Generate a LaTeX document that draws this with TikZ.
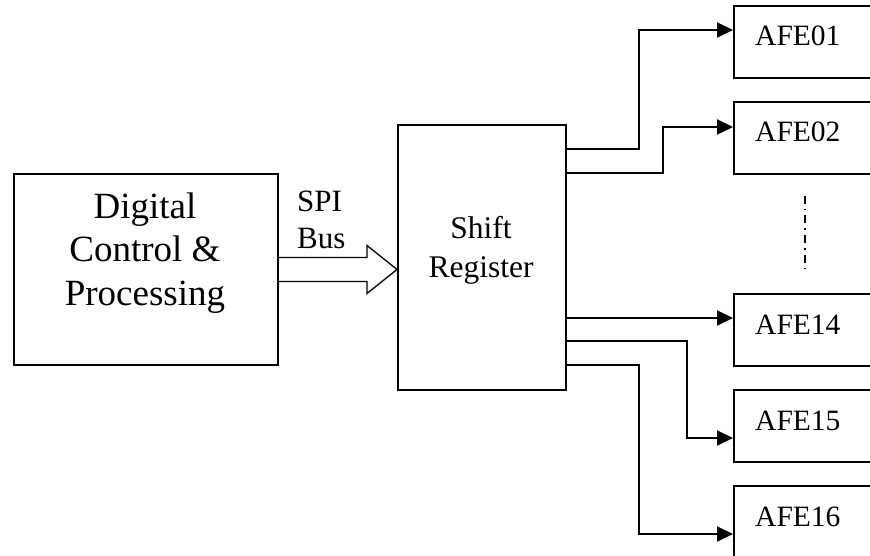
\documentclass[tikz,border=0pt]{standalone}
\usepackage{fontspec}
\setmainfont{Liberation Serif}
\usetikzlibrary{arrows.meta,calc}
\begin{document}
\begin{tikzpicture}[x=1pt,y=-1pt,
  blk/.style={draw,line width=2pt,inner sep=0pt,anchor=north west},
  afebox/.style={blk,minimum width=150pt,minimum height=72pt},
  lbl/.style={inner sep=0pt},
  afetxt/.style={lbl,anchor=base west,font=\fontsize{29.5}{34}\selectfont},
  sig/.style={line width=1.9pt,-{Triangle[length=16pt,width=15pt]}},
  busarrow/.style={line width=1.3pt,line join=miter},
  dotline/.style={line width=1.7pt,dash pattern=on 8pt off 5pt on 1.5pt off 5pt}
]
\clip (0,0) rectangle (870,556);

% main blocks
\node[blk,minimum width=264pt,minimum height=191pt] (dcp) at (13,173) {};
\node[blk,line width=1.6pt,minimum width=168pt,minimum height=265pt] (sr) at (397,124) {};

% multi-line labels, placed by the baseline of their last line
\node[lbl,align=center,anchor=base,font=\fontsize{37}{43.5}\selectfont] (dcptext) at (145,305)
  {Digital\\Control \&\\Processing};
\node[lbl,align=center,anchor=base,font=\fontsize{31.5}{39}\selectfont] (srtext) at (481,277)
  {Shift\\Register};
\node[lbl,align=left,anchor=base west,font=\fontsize{31}{36}\selectfont] (spi) at (297,248)
  {SPI\\Bus};

% analog front-end boxes
\node[afebox] (afe01) at (733,5) {};
\node[afebox] (afe02) at (733,101) {};
\node[afebox] (afe14) at (733,293) {};
\node[afebox] (afe15) at (733,389) {};
\node[afebox] (afe16) at (733,485) {};

\node[afetxt] (t01) at ($(afe01.north west)+(22,41)$) {AFE01};
\node[afetxt] (t02) at ($(afe02.north west)+(22,41)$) {AFE02};
\node[afetxt] (t14) at ($(afe14.north west)+(22,41)$) {AFE14};
\node[afetxt] (t15) at ($(afe15.north west)+(22,41)$) {AFE15};
\node[afetxt] (t16) at ($(afe16.north west)+(22,41)$) {AFE16};

% SPI bus: hollow block arrow
\coordinate (tip) at (dcp.east -| sr.west);
\draw[busarrow] ([yshift=12pt]dcp.east) -- ([xshift=-30pt,yshift=12pt]tip)
  -- ([xshift=-30pt,yshift=24pt]tip) -- (tip)
  -- ([xshift=-30pt,yshift=-24pt]tip) -- ([xshift=-30pt,yshift=-12pt]tip)
  -- ([yshift=-12pt]dcp.east);

% outputs of the shift register
\draw[sig] ([yshift=-25pt]sr.north east) -- ++(72,0) |- ([yshift=12pt]afe01.west);
\draw[sig] ([yshift=-49pt]sr.north east) -- ++(96,0) |- ([yshift=11pt]afe02.west);
\coordinate (in14) at ([yshift=12pt]afe14.west);
\draw[sig] (in14 -| sr.east) -- (in14);
\draw[sig] ([yshift=-217pt]sr.north east) -- ++(120,0) |- ([yshift=-12pt]afe15.west);
\draw[sig] ([yshift=-241pt]sr.north east) -- ++(72,0) |- ([yshift=-12pt]afe16.west);

% ellipsis between AFE02 and AFE14
\coordinate (d1) at (805,196);
\coordinate (d2) at (805,269);
\draw[dotline] (d1) -- (d2);
\end{tikzpicture}
\end{document}
